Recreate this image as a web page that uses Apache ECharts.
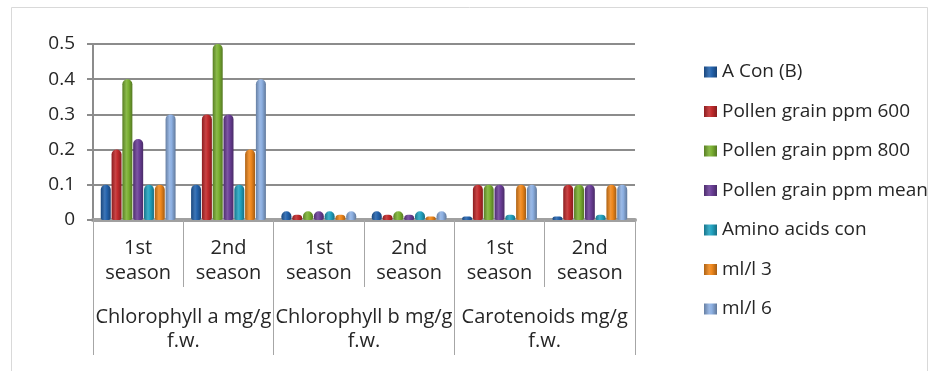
<!DOCTYPE html>
<html>
<head>
<meta charset="utf-8">
<script src="https://cdn.jsdelivr.net/npm/echarts@6/dist/echarts.min.js"></script>
<style>
  html, body { margin: 0; padding: 0; background: #ffffff; }
  #chart { width: 937px; height: 371px; }
</style>
</head>
<body>
<div id="chart"></div>
<script>
// Season categories (inner axis level) and pigment groups (outer axis level)
const seasons = ['1st\nseason', '2nd\nseason', '1st\nseason', '2nd\nseason', '1st\nseason', '2nd\nseason'];
const pigments = ['Chlorophyll a mg/g\nf.w.', 'Chlorophyll b mg/g\nf.w.', 'Carotenoids mg/g\nf.w.'];

// Treatment series, one value per season category
const seriesNames = ['A Con (B)', 'Pollen grain ppm 600', 'Pollen grain ppm 800', 'Pollen grain ppm mean', 'Amino acids con', 'ml/l 3', 'ml/l 6'];
const aCon       = [0.1,  0.1, 0.025, 0.025, 0.01,  0.01];
const pollen600  = [0.2,  0.3, 0.015, 0.015, 0.1,   0.1];
const pollen800  = [0.4,  0.5, 0.025, 0.025, 0.1,   0.1];
const pollenMean = [0.23, 0.3, 0.025, 0.015, 0.1,   0.1];
const amino      = [0.1,  0.1, 0.025, 0.025, 0.015, 0.015];
const ml3        = [0.1,  0.2, 0.015, 0.01,  0.1,   0.1];
const ml6        = [0.3,  0.4, 0.025, 0.025, 0.1,   0.1];
const seriesValues = [aCon, pollen600, pollen800, pollenMean, amino, ml3, ml6];

// Value axis range
const yMin = 0, yMax = 0.5, yStep = 0.1;

const baseColors = ['#2463ad', '#c22a2c', '#7bb132', '#6b3f98', '#22a3c1', '#f0881c', '#8db0e2'];

function shade(hex, f) {
  const n = parseInt(hex.slice(1), 16);
  const r = (n >> 16) & 255, g = (n >> 8) & 255, b = n & 255;
  const adj = c => Math.max(0, Math.min(255, Math.round(f >= 1 ? c + (255 - c) * (f - 1) : c * f)));
  return 'rgb(' + adj(r) + ',' + adj(g) + ',' + adj(b) + ')';
}

// Horizontal gradient giving each bar a rounded, cylinder-like look
function cylinder(hex) {
  return {
    type: 'linear', x: 0, y: 0, x2: 1, y2: 0,
    colorStops: [
      { offset: 0,   color: shade(hex, 0.72) },
      { offset: 0.4, color: shade(hex, 1.12) },
      { offset: 0.6, color: shade(hex, 1.0) },
      { offset: 1,   color: shade(hex, 0.68) }
    ]
  };
}

const fontFamily = '"Open Sans", "Liberation Sans", sans-serif';
const textColor = '#262626';

const chart = echarts.init(document.getElementById('chart'), null, { renderer: 'canvas' });

chart.setOption({
  backgroundColor: '#ffffff',
  animation: false,
  textStyle: { fontFamily: fontFamily },
  graphic: [{
    type: 'rect',
    left: 9, top: 5,
    shape: { width: 916, height: 364 },
    style: { fill: 'none', stroke: '#d9d9d9', lineWidth: 1 },
    silent: true
  }],
  grid: { left: 93, right: 302, top: 44, bottom: 151, containLabel: false },
  legend: {
    orient: 'vertical',
    left: 699,
    top: 57,
    itemWidth: 13,
    itemHeight: 11,
    itemGap: 19.5,
    icon: 'rect',
    textStyle: { fontSize: 19, lineHeight: 20, color: textColor, fontFamily: fontFamily },
    data: seriesNames
  },
  xAxis: [{
    type: 'category',
    data: seasons,
    position: 'bottom',
    axisLine: { show: true, lineStyle: { color: '#a0a0a0', width: 4 } },
    axisTick: { show: true, interval: 0, length: 67, lineStyle: { color: '#a6a6a6', width: 1 } },
    axisLabel: { interval: 0, margin: 16, fontSize: 20, lineHeight: 25, color: textColor, fontFamily: fontFamily },
    splitLine: { show: false }
  }, {
    type: 'category',
    data: pigments,
    position: 'bottom',
    offset: 0,
    axisLine: { show: false },
    axisTick: { show: true, interval: 0, length: 135, lineStyle: { color: '#a6a6a6', width: 1 } },
    axisLabel: { interval: 0, margin: 85, fontSize: 20, lineHeight: 24, color: textColor, fontFamily: fontFamily },
    splitLine: { show: false }
  }],
  yAxis: {
    type: 'value',
    min: yMin, max: yMax, interval: yStep,
    axisLine: { show: true, lineStyle: { color: '#8c8c8c', width: 2 } },
    axisTick: { show: true, length: 6, lineStyle: { color: '#8c8c8c', width: 2 } },
    axisLabel: { fontSize: 19, color: textColor, margin: 18, fontFamily: fontFamily,
      formatter: v => (v === 0 ? '0' : v.toFixed(1)) },
    splitLine: { show: true, lineStyle: { color: '#8c8c8c', width: 2 } }
  },
  series: seriesNames.map((name, i) => ({
    name: name,
    type: 'bar',
    xAxisIndex: 0,
    data: seriesValues[i],
    barWidth: 10,
    barGap: '8%',
    itemStyle: { color: cylinder(baseColors[i]), borderRadius: [5, 5, 2, 2] }
  }))
});
</script>
</body>
</html>
